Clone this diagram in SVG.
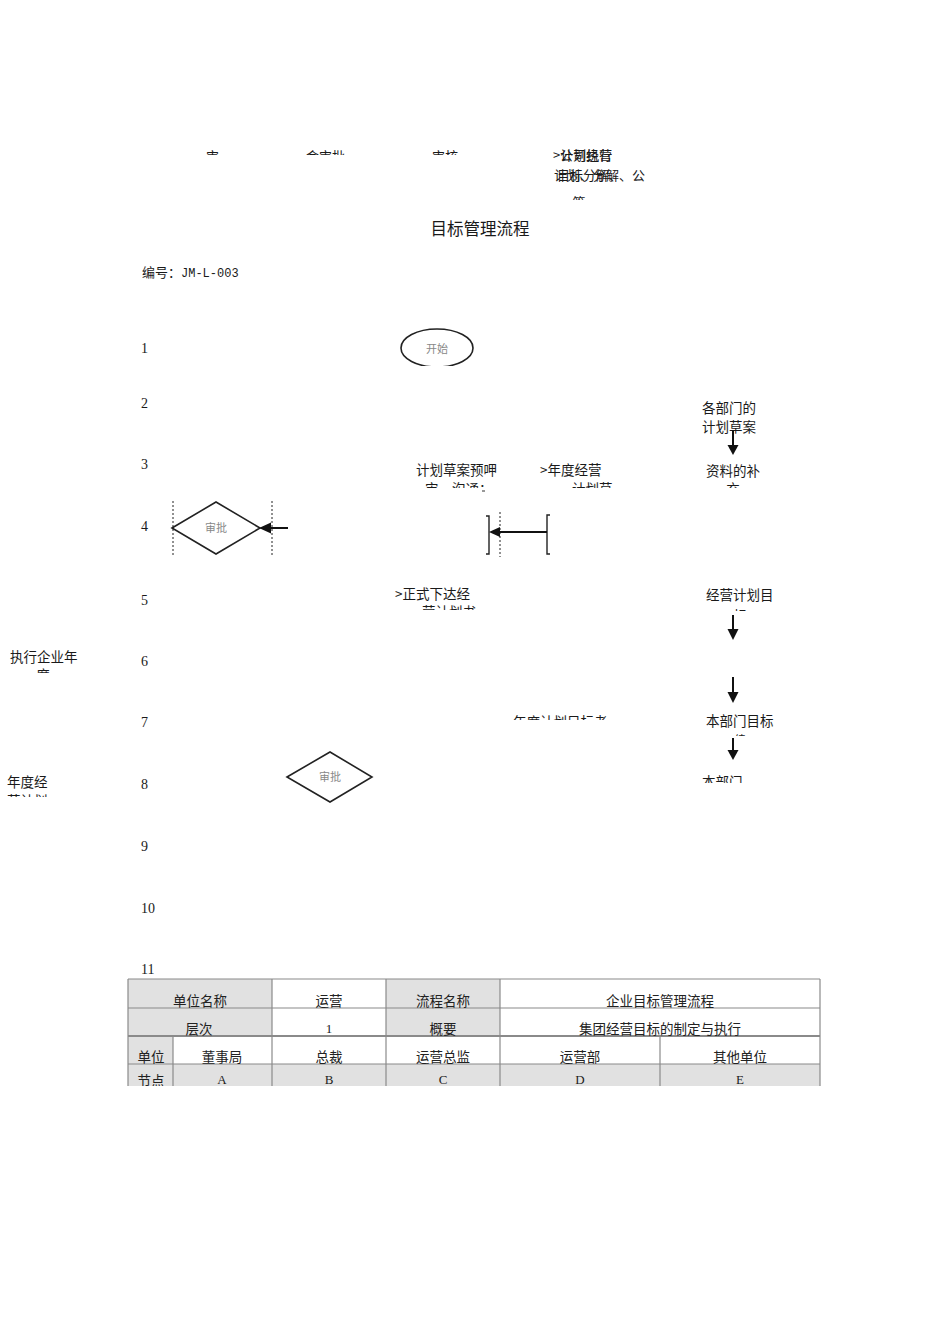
<svg xmlns="http://www.w3.org/2000/svg" width="950" height="1344" viewBox="0 0 950 1344">
<style>
.t{font-family:"Noto Sans CJK SC","Noto Sans",sans-serif;font-size:13.5px;fill:#1a1a1a}
.ts{font-family:"Noto Sans CJK SC","Noto Sans",sans-serif;font-size:13px;fill:#1a1a1a}
.n{font-family:"Liberation Serif",serif;font-size:14px;fill:#1a1a1a}
.tb{font-family:"Noto Sans CJK SC","Noto Sans",sans-serif;font-size:13.5px;fill:#222;text-anchor:middle}
.tl{font-family:"Liberation Serif",serif;font-size:13px;fill:#222;text-anchor:middle}
.faint{font-family:"Noto Sans CJK SC",sans-serif;font-size:11px;fill:#888;text-anchor:middle}
.shape{fill:#fff;stroke:#222;stroke-width:1.6}
.dash{stroke:#222;stroke-width:1;stroke-dasharray:2,2;fill:none}
.line{stroke:#111;stroke-width:2;fill:none}
.head{fill:#111}
.cell{stroke:#8a8a8a;stroke-width:1.2}
.g{fill:#e1e1e1}
</style>
<defs>
<clipPath id="cTop"><rect x="0" y="0" width="950" height="155"/></clipPath>
<clipPath id="cQian"><rect x="0" y="0" width="950" height="200"/></clipPath>
<clipPath id="cR3"><rect x="0" y="0" width="950" height="488"/></clipPath>
<clipPath id="cR5"><rect x="0" y="0" width="950" height="610"/></clipPath>
<clipPath id="cR5b"><rect x="0" y="0" width="950" height="611"/></clipPath>
<clipPath id="cL6"><rect x="0" y="0" width="950" height="673"/></clipPath>
<clipPath id="cR7"><rect x="0" y="0" width="950" height="720"/></clipPath>
<clipPath id="cR7b"><rect x="0" y="0" width="950" height="736"/></clipPath>
<clipPath id="cR8"><rect x="0" y="0" width="950" height="783"/></clipPath>
<clipPath id="cL8"><rect x="0" y="0" width="950" height="797"/></clipPath>
<clipPath id="cEll"><rect x="0" y="0" width="950" height="366"/></clipPath>
<clipPath id="cTable"><rect x="0" y="0" width="950" height="1086"/></clipPath>
</defs>

<g id="header-fragments">
<g clip-path="url(#cTop)">
<text class="ts" x="206" y="161">审</text>
<text class="ts" x="306" y="161">会审批</text>
<text class="ts" x="432" y="161">审核</text>
</g>
<text class="ts" x="553" y="160">&gt;计划执行<tspan x="560">公司经营</tspan></text>
<text class="ts" x="554" y="180">计划、分解、公<tspan x="557">目标分解、</tspan></text>
<g clip-path="url(#cQian)"><text class="ts" x="579" y="207" text-anchor="middle">签</text></g>
</g>

<g id="title">
<text x="480" y="235" text-anchor="middle" style="font-family:'Noto Sans CJK SC',sans-serif;font-size:16.5px;fill:#1a1a1a">目标管理流程</text>
<text class="ts" x="142" y="277">编号：<tspan style="font-family:'Liberation Mono',monospace;font-size:12px">JM-L-003</tspan></text>
</g>

<g id="row-numbers">
<text class="n" x="141" y="353">1</text>
<text class="n" x="141" y="408">2</text>
<text class="n" x="141" y="469">3</text>
<text class="n" x="141" y="531">4</text>
<text class="n" x="141" y="605">5</text>
<text class="n" x="141" y="666">6</text>
<text class="n" x="141" y="727">7</text>
<text class="n" x="141" y="789">8</text>
<text class="n" x="141" y="851">9</text>
<text class="n" x="141" y="913">10</text>
<text class="n" x="141" y="974">11</text>
</g>

<g id="node-start">
<g clip-path="url(#cEll)">
<ellipse class="shape" cx="437" cy="348" rx="36" ry="19"/>
</g>
<text class="faint" x="437" y="353">开始</text>
</g>

<g id="node-diamond-A4">
<polygon class="shape" points="172,528 216,502 260,528 216,554"/>
<line class="dash" x1="173" y1="501" x2="173" y2="556"/>
<line class="dash" x1="272" y1="501" x2="272" y2="556"/>
<text class="faint" x="216" y="532">审批</text>
</g>

<g id="node-bracket-C4">
<path d="M486,516 H489 V554 H486" fill="none" stroke="#222" stroke-width="1.4"/>
<line class="dash" x1="500" y1="512" x2="500" y2="557"/>
<path d="M550,515 H547 V554 H550" fill="none" stroke="#222" stroke-width="1.4"/>
</g>

<g id="node-diamond-B8">
<polygon class="shape" points="287,777 330,752 372,777 330,802"/>
<text class="faint" x="330" y="781">审批</text>
</g>

<g id="labels">
<g id="lbl-plan-draft">
<text class="t" x="416" y="475">计划草案预呷</text>
<g clip-path="url(#cR3)"><text class="t" x="425" y="494">审、沟通；</text></g>
<line x1="482" y1="491" x2="485" y2="491" stroke="#333" stroke-width="1"/>
</g>
<g id="lbl-annual-plan">
<text class="t" x="540" y="475">&gt;年度经营</text>
<g clip-path="url(#cR3)"><text class="t" x="572" y="494">计划草</text></g>
</g>
<g id="lbl-supplement">
<text class="t" x="706" y="476">资料的补</text>
<g clip-path="url(#cR3)"><text class="t" x="733" y="494" text-anchor="middle">充</text></g>
</g>
<g id="lbl-dept-draft">
<text class="t" x="702" y="413">各部门的</text>
<text class="t" x="702" y="432">计划草案</text>
</g>
<g id="lbl-issue">
<text class="t" x="395" y="599">&gt;正式下达经</text>
<g clip-path="url(#cR5)"><text class="t" x="422" y="617">营计划书</text></g>
</g>
<g id="lbl-target">
<text class="t" x="706" y="600">经营计划目</text>
<g clip-path="url(#cR5b)"><text class="t" x="740" y="621" text-anchor="middle">标</text></g>
</g>
<g id="lbl-exec">
<text class="t" x="10" y="662">执行企业年</text>
<g clip-path="url(#cL6)"><text class="t" x="43" y="680" text-anchor="middle">度</text></g>
</g>
<g id="lbl-assess">
<g clip-path="url(#cR7)"><text class="t" x="513" y="727">年度计划目标考</text></g>
</g>
<g id="lbl-dept-target">
<text class="t" x="706" y="726">本部门目标</text>
<g clip-path="url(#cR7b)"><text class="t" x="740" y="744" text-anchor="middle" style="font-size:11px">绩</text></g>
</g>
<g id="lbl-dept">
<g clip-path="url(#cR8)"><text class="t" x="702" y="787">本部门</text></g>
</g>
<g id="lbl-annual-left">
<text class="t" x="7" y="787">年度经</text>
<g clip-path="url(#cL8)"><text class="t" x="7" y="806">营计划</text></g>
</g>
</g>

<g id="connectors">
<line class="line" x1="288" y1="528" x2="269" y2="528"/>
<polygon class="head" points="259,528 271,522.5 271,533.5"/>
<line class="line" x1="547" y1="532" x2="498" y2="532"/>
<polygon class="head" points="489,532 500,527 500,537"/>
<line class="line" x1="733" y1="430" x2="733" y2="446"/>
<polygon class="head" points="727.5,445 738.5,445 733,455"/>
<line class="line" x1="733" y1="615" x2="733" y2="630"/>
<polygon class="head" points="727.5,629 738.5,629 733,640"/>
<line class="line" x1="733" y1="677" x2="733" y2="693"/>
<polygon class="head" points="727.5,692 738.5,692 733,703"/>
<line class="line" x1="733" y1="738" x2="733" y2="751"/>
<polygon class="head" points="727.5,750 738.5,750 733,760"/>
</g>

<g id="info-table" clip-path="url(#cTable)">
<rect class="g" x="128" y="979" width="144" height="57"/>
<rect class="g" x="386" y="979" width="114" height="57"/>
<rect class="g" x="128" y="1036" width="45" height="28"/>
<rect class="g" x="128" y="1064" width="692" height="30"/>
<g class="cell" fill="none">
<line x1="128" y1="979" x2="820" y2="979"/>
<line x1="128" y1="1008" x2="820" y2="1008"/>
<line x1="128" y1="1036" x2="820" y2="1036" stroke-width="1.8"/>
<line x1="128" y1="1064" x2="820" y2="1064"/>
<line x1="128" y1="979" x2="128" y2="1090"/>
<line x1="820" y1="979" x2="820" y2="1090"/>
<line x1="173" y1="1036" x2="173" y2="1090"/>
<line x1="272" y1="979" x2="272" y2="1090"/>
<line x1="386" y1="979" x2="386" y2="1090"/>
<line x1="500" y1="979" x2="500" y2="1090"/>
<line x1="660" y1="1036" x2="660" y2="1090"/>
</g>
<text class="tb" x="200" y="1006">单位名称</text>
<text class="tb" x="329" y="1006">运营</text>
<text class="tb" x="443" y="1006">流程名称</text>
<text class="tb" x="660" y="1006">企业目标管理流程</text>
<text class="tb" x="199" y="1034">层次</text>
<text class="tl" x="329" y="1033">1</text>
<text class="tb" x="443" y="1034">概要</text>
<text class="tb" x="660" y="1034">集团经营目标的制定与执行</text>
<text class="tb" x="151" y="1062">单位</text>
<text class="tb" x="222" y="1062">董事局</text>
<text class="tb" x="329" y="1062">总裁</text>
<text class="tb" x="443" y="1062">运营总监</text>
<text class="tb" x="580" y="1062">运营部</text>
<text class="tb" x="740" y="1062">其他单位</text>
<text class="tb" x="151" y="1086">节点</text>
<text class="tl" x="222" y="1084">A</text>
<text class="tl" x="329" y="1084">B</text>
<text class="tl" x="443" y="1084">C</text>
<text class="tl" x="580" y="1084">D</text>
<text class="tl" x="740" y="1084">E</text>
</g>
</svg>
